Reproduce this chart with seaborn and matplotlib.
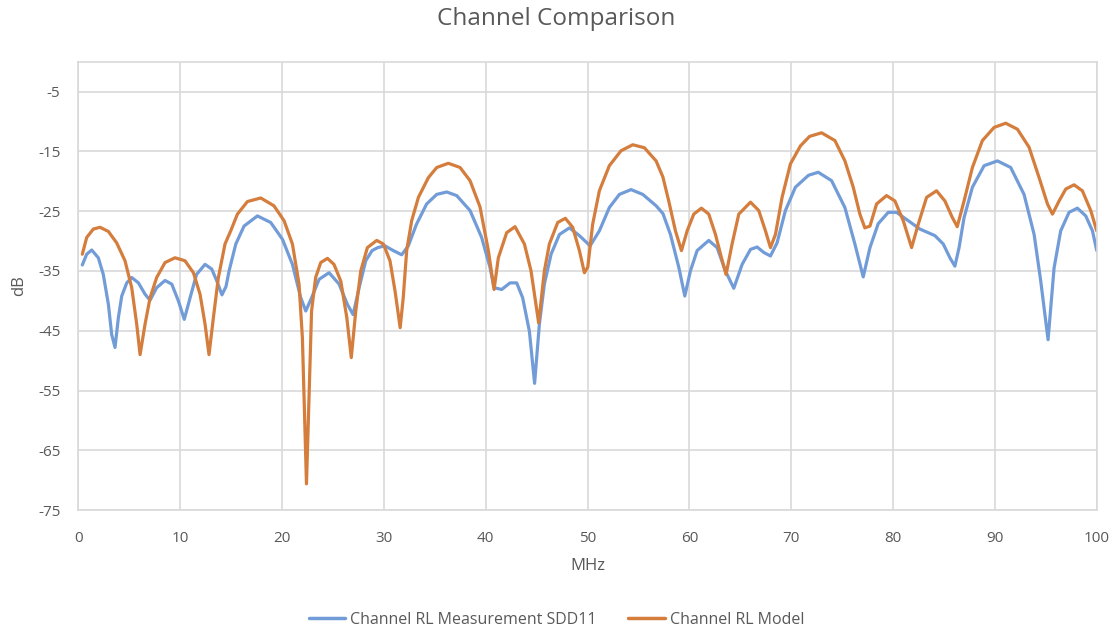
import numpy as np
import pandas as pd
import matplotlib
matplotlib.use("Agg")
import matplotlib.pyplot as plt
from matplotlib.lines import Line2D
import seaborn as sns

meas_x = [0.39, 0.82, 1.31, 1.96, 2.45, 2.95, 3.27, 3.6, 3.93, 4.26, 4.75, 5.24, 5.9, 6.55, 7.04,
          7.69, 8.51, 9.17, 9.82, 10.4, 10.97, 11.6, 12.44, 13.1, 13.6, 14.1, 14.5, 14.8, 15.46,
          16.27, 17.58, 18.89, 20.04, 21.02, 21.84, 22.33, 22.9, 23.64, 24.62, 25.6, 26.42,
          26.98, 27.57, 28.22, 28.84, 29.4, 30.1, 30.93, 31.75, 32.4, 33.2, 34.2, 35.19, 36.17,
          37.15, 38.46, 39.6, 40.42, 40.82, 41.57, 42.39, 43.04, 43.63, 44.29, 44.8, 45.27,
          45.76, 46.42, 47.24, 48.22, 49.2, 50.25, 51.16, 52.14, 53.13, 54.27, 55.42, 56.73,
          57.4, 58.14, 58.96, 59.55, 60.1, 60.76, 61.9, 62.72, 63.54, 64.36, 65.18, 66.0, 66.65,
          67.3, 67.96, 68.61, 69.43, 70.41, 71.7, 72.65, 73.96, 75.27, 76.25, 77.07, 77.73,
          78.54, 79.53, 80.34, 81.49, 82.64, 84.11, 84.93, 85.58, 86.07, 86.48, 86.97, 87.79,
          88.94, 90.25, 91.55, 92.86, 93.85, 94.5, 95.22, 95.81, 96.46, 97.28, 98.1, 98.92,
          99.58, 100.0]
meas_db = [-34.0, -32.2, -31.5, -32.8, -35.6, -40.6, -45.6, -47.8, -42.8, -39.2, -37.0, -36.1,
           -37.0, -38.9, -39.9, -37.8, -36.6, -37.2, -40.0, -43.1, -39.5, -35.6, -33.9, -34.7,
           -36.7, -39.0, -37.6, -35.0, -30.5, -27.5, -25.8, -26.9, -29.7, -33.9, -39.5, -41.7,
           -39.5, -36.4, -35.3, -37.2, -40.6, -42.3, -37.8, -33.3, -31.6, -31.1, -30.8, -31.6,
           -32.3, -30.8, -27.2, -23.8, -22.2, -21.8, -22.4, -24.9, -29.4, -34.4, -37.8, -38.1,
           -37.0, -37.0, -39.5, -45.1, -53.8, -43.9, -37.2, -32.2, -28.9, -27.8, -29.1, -30.8,
           -28.3, -24.4, -22.2, -21.4, -22.2, -24.1, -25.4, -28.9, -34.4, -39.2, -35.0, -31.6,
           -29.9, -31.1, -35.0, -37.9, -33.9, -31.4, -31.0, -31.9, -32.5, -30.3, -24.9, -21.0,
           -19.0, -18.5, -19.9, -24.4, -30.5, -36.0, -31.1, -27.1, -25.2, -25.2, -26.6, -28.0,
           -29.1, -30.5, -32.8, -34.2, -31.1, -26.1, -21.0, -17.4, -16.6, -17.7, -22.2, -28.9,
           -36.7, -46.5, -34.5, -28.3, -25.2, -24.5, -25.8, -28.3, -31.6]

model_x = [0.39, 0.82, 1.47, 2.13, 2.95, 3.76, 4.58, 5.24, 5.73, 6.06, 6.55, 7.04, 7.69, 8.51,
           9.49, 10.47, 11.3, 11.95, 12.44, 12.83, 13.26, 13.75, 14.4, 14.96, 15.62, 16.6, 17.91,
           19.2, 20.2, 21.02, 21.67, 22.0, 22.4, 22.9, 23.3, 23.8, 24.46, 25.1, 25.77, 26.36,
           26.8, 27.24, 27.73, 28.38, 29.3, 29.95, 30.6, 31.1, 31.6, 31.9, 32.24, 32.73, 33.39,
           34.37, 35.19, 36.33, 37.48, 38.46, 39.44, 40.26, 40.82, 41.24, 42.06, 42.88, 43.8,
           44.45, 45.2, 45.76, 46.25, 47.07, 47.82, 48.54, 49.2, 49.69, 50.02, 50.5, 51.16,
           52.14, 53.29, 54.44, 55.58, 56.73, 57.4, 57.97, 58.63, 59.22, 59.78, 60.43, 61.18,
           61.9, 62.56, 63.15, 63.6, 64.19, 64.85, 66.0, 66.81, 67.47, 67.96, 68.45, 69.1, 69.92,
           70.9, 71.8, 72.98, 74.29, 75.27, 76.09, 76.74, 77.23, 77.73, 78.38, 79.36, 80.18,
           81.0, 81.82, 82.47, 83.29, 84.27, 85.09, 85.8, 86.3, 86.97, 87.79, 88.77, 89.92,
           91.06, 92.21, 93.35, 94.34, 95.16, 95.65, 96.3, 96.96, 97.77, 98.59, 99.41, 100.0]
model_db = [-32.2, -29.4, -28.0, -27.7, -28.4, -30.3, -33.3, -37.8, -43.9, -49.0, -43.9, -39.5,
            -36.1, -33.6, -32.8, -33.3, -35.3, -38.9, -43.9, -49.0, -42.8, -36.1, -30.5, -28.3,
            -25.5, -23.4, -22.8, -24.1, -26.6, -30.5, -37.2, -46.2, -70.6, -41.7, -36.1, -33.6,
            -32.9, -33.9, -36.7, -42.8, -49.5, -41.7, -35.0, -31.1, -29.9, -30.5, -33.3, -38.4,
            -44.5, -39.5, -31.6, -26.6, -22.7, -19.4, -17.7, -17.0, -17.7, -19.9, -24.3, -31.6,
            -38.1, -32.8, -28.6, -27.6, -30.5, -35.0, -43.7, -35.0, -30.5, -26.9, -26.2, -27.7,
            -31.6, -35.3, -34.4, -27.2, -21.6, -17.4, -14.9, -13.9, -14.4, -16.6, -19.3, -23.3,
            -28.3, -31.6, -28.3, -25.5, -24.5, -25.5, -28.9, -32.8, -35.6, -30.5, -25.5, -23.5,
            -24.9, -28.3, -31.1, -28.9, -22.7, -17.1, -14.1, -12.5, -11.9, -13.2, -16.6, -21.0,
            -25.5, -27.8, -27.5, -23.8, -22.4, -23.3, -26.6, -31.1, -27.2, -22.7, -21.6, -23.3,
            -26.0, -27.6, -23.3, -17.7, -13.2, -11.0, -10.3, -11.3, -14.3, -19.4, -23.8, -25.5,
            -23.3, -21.3, -20.6, -21.6, -24.9, -28.3]

series_names = ["Channel RL Measurement SDD11", "Channel RL Model"]
x_ticks = [0, 10, 20, 30, 40, 50, 60, 70, 80, 90, 100]
y_ticks = [-5, -15, -25, -35, -45, -55, -65, -75]

sns.set_theme(style="white")
plt.rcParams['font.family'] = ['Open Sans', 'DejaVu Sans']

TEXT = "#595959"
GRID = "#d9d9d9"
BLUE = "#729cd8"
ORANGE = "#d47d3c"

fig = plt.figure(figsize=(11.13, 6.29), dpi=100)
ax = fig.add_axes([0.0704, 0.189, 0.915, 0.713])

df = pd.concat([
    pd.DataFrame({"MHz": meas_x, "dB": meas_db, "series": series_names[0]}),
    pd.DataFrame({"MHz": model_x, "dB": model_db, "series": series_names[1]}),
])
sns.lineplot(data=df, x="MHz", y="dB", hue="series", palette=[BLUE, ORANGE],
             linewidth=2.3, ax=ax, sort=False, estimator=None, legend=False)
for ln in ax.get_lines():
    ln.set_solid_joinstyle("round")
    ln.set_solid_capstyle("round")

ax.set_xlim(0, 100)
ax.set_ylim(-75, 0)
ax.set_xticks(x_ticks)
ax.set_yticks(y_ticks)
ax.set_xticklabels([str(t) for t in x_ticks])
ax.set_yticklabels([str(t) for t in y_ticks])
ax.tick_params(axis="both", colors=TEXT, labelsize=11, length=0)
ax.tick_params(axis="x", pad=15)
ax.tick_params(axis="y", pad=13)
ax.grid(True, color=GRID, linewidth=1.2)
ax.set_axisbelow(True)
for s in ax.spines.values():
    s.set_color(GRID)
    s.set_linewidth(1.2)

ax.set_xlabel("MHz", color=TEXT, fontsize=12, labelpad=9)
ax.set_ylabel("dB", color=TEXT, fontsize=12, labelpad=8)
fig.text(0.5, 0.969, "Channel Comparison", color=TEXT, fontsize=17.5, ha="center", va="center")

handles = [Line2D([0], [0], color=BLUE, lw=2.5), Line2D([0], [0], color=ORANGE, lw=2.5)]
leg = fig.legend(handles, series_names, loc="center", bbox_to_anchor=(0.5, 0.015),
                 ncol=2, frameon=False, fontsize=11.5, handlelength=2.3,
                 columnspacing=2.0, handletextpad=0.3)
for t in leg.get_texts():
    t.set_color(TEXT)

fig.savefig("out.png", dpi=100)
